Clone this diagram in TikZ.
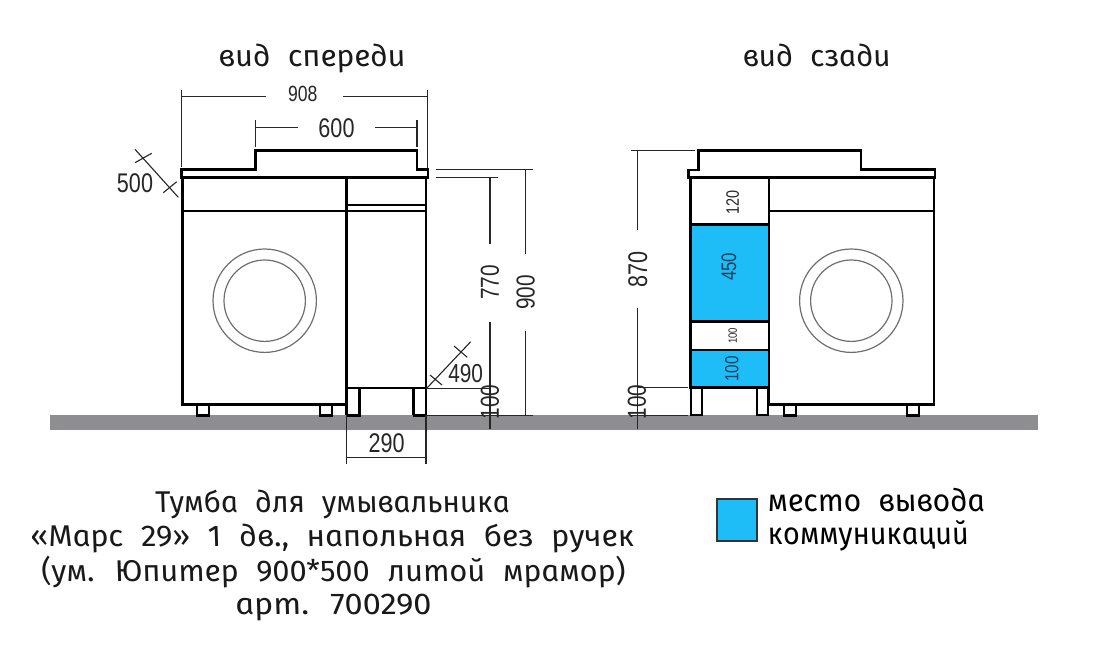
\documentclass[tikz,border=0pt]{standalone}
\usepackage{fontspec}
\usepackage{graphicx}
\setmainfont{Liberation Sans}
\newfontfamily\capfontbase[ItalicFeatures={FakeSlant=-0.17},WordSpace=2.2]{Fira Sans}
\newcommand{\capfont}{\capfontbase\itshape}
\definecolor{skyfill}{HTML}{1FBDF8}
\definecolor{groundgray}{HTML}{8E8E92}
\definecolor{ringgray}{HTML}{6E6E6E}
\definecolor{numblue}{HTML}{123F5C}
\tikzset{
  x=1pt,y=-1pt,
  outline/.style={draw=black,line width=2.6pt,line join=miter},
  thin outline/.style={draw=black,line width=2.2pt},
  dim/.style={draw=black!85,line width=1.1pt},
  ring/.style={draw=ringgray,line width=1.2pt},
  caption/.style={font=\capfont\fontsize{30}{30}\selectfont,inner sep=0pt,text=black!90,anchor=mid},
  legendtext/.style={font=\capfont\fontsize{31}{31}\selectfont,inner sep=0pt,text=black,anchor=base west},
  dimnum/.style={inner sep=0pt,text=black!85},
}
\newcommand{\dimtxt}[1]{\fontsize{#1}{#1}\selectfont}
\newcommand{\nm}[1]{\scalebox{.8}[1]{#1}}
\newcommand{\fitline}[2]{\resizebox{#1pt}{\height}{#2}}
\begin{document}
\begin{tikzpicture}
\useasboundingbox (0,0) rectangle (1100,649);
% ground
\fill[groundgray] (50,415.3) rectangle (1038,430);
% FRONT VIEW
\draw[outline,fill=white] (181.5,169.3) -- (255.7,169.3) -- (255.7,150.5) -- (417,150.5) -- (417,169.3) -- (428,169.3) -- (428,177.7) -- (181.5,177.7) -- cycle;
\draw[outline] (182.7,177.7) -- (182.7,404.3) -- (346.7,404.3);
\draw[outline] (346.7,177.7) -- (346.7,415.3);
\draw[outline] (426,177.7) -- (426,415.3);
\draw[thin outline] (182.7,210.7) -- (426,210.7);
\draw[thin outline] (346.7,205.3) -- (426,205.3);
\draw[outline] (346.7,388) -- (426,388);
\draw[thin outline] (197.3,404.3) rectangle (209.3,415.5);
\draw[thin outline] (320,404.3) rectangle (332.3,415.5);
\draw[outline] (346.7,388) -- (359.3,388) -- (359.3,415.3) -- (346.7,415.3);
\draw[outline] (413.3,415.3) -- (413.3,388);
\draw[outline] (413.3,415.3) -- (426,415.3);
\node[circle,ring,minimum size=103.4pt,inner sep=0pt] (ringA) at (264.7,300.7) {};
\node[circle,ring,minimum size=81.4pt,inner sep=0pt] (doorA) at (264.7,300.7) {};
% front dimensions
\draw[dim] (181.7,90) -- (181.7,167);
\draw[dim] (427.7,90) -- (427.7,168);
\draw[dim] (182,96.7) -- (266,96.7);
\draw[dim] (343,96.7) -- (428,96.7);
\node[dimnum,font=\dimtxt{22}] (n908) at (302.7,94) {\nm{908}};
\draw[dim] (255.7,120) -- (255.7,147);
\draw[dim] (417,120) -- (417,147);
\draw[dim] (256,127.7) -- (298,127.7);
\draw[dim] (375,127.7) -- (417,127.7);
\node[dimnum,font=\dimtxt{27}] (n600) at (336.5,128.5) {\nm{600}};
\draw[dim] (135,149.3) -- (178.3,197.3);
\draw[dim] (135,162.7) -- (151.7,153.3);
\draw[dim] (163.3,192.7) -- (176.7,181.7);
\node[dimnum,font=\dimtxt{27}] (n500) at (135,182.7) {\nm{500}};
\draw[dim] (435.7,169.3) -- (533.3,169.3);
\draw[dim] (435.7,177.7) -- (497.7,177.7);
\draw[dim] (490,177.7) -- (490,244);
\draw[dim] (490,321.7) -- (490,429.3);
\node[dimnum,font=\dimtxt{26},rotate=90] (n770) at (490,282.3) {\nm{770}};
\draw[dim] (525.7,169.3) -- (525.7,254);
\draw[dim] (525.7,331) -- (525.7,415.3);
\node[dimnum,font=\dimtxt{26},rotate=90] (n900) at (525.7,292.3) {\nm{900}};
\draw[dim] (426,415.3) -- (533,415.3);
\draw[dim] (426.7,388.3) -- (470.7,341.7);
\draw[dim] (430,375) -- (442,385);
\draw[dim] (454,346) -- (467.3,357.3);
\node[dimnum,font=\dimtxt{26}] (n490) at (465.7,373.3) {\nm{490}};
\draw[dim] (426,388.3) -- (490,388.3);
\node[dimnum,font=\dimtxt{26},rotate=90] (n100a) at (490,402) {\nm{100}};
\draw[dim] (346.7,415) -- (346.7,464.3);
\draw[dim] (426,415) -- (426,464.3);
\draw[dim] (346.7,457.3) -- (426,457.3);
\node[dimnum,font=\dimtxt{27}] (n290) at (386.7,443.3) {\nm{290}};
% BACK VIEW
\fill[skyfill] (690.3,224.3) rectangle (769,321.7);
\fill[skyfill] (690.3,350) rectangle (769,387.7);
\draw[outline,fill=white] (698.3,150.7) -- (861,150.7) -- (861,169.3) -- (935,169.3) -- (935,177.7) -- (688.3,177.7) -- (688.3,170) -- (698.3,170) -- cycle;
\draw[outline] (690.3,177.7) -- (690.3,387.7) -- (769,387.7);
\draw[outline] (769,177.7) -- (769,404.3) -- (934,404.3) -- (934,177.7);
\draw[thin outline] (769,210.7) -- (934,210.7);
\draw[outline] (690.3,224.3) -- (769,224.3);
\draw[outline] (690.3,321.7) -- (769,321.7);
\draw[outline] (690.3,350) -- (769,350);
\draw[thin outline] (691,387.7) rectangle (702.3,415.3);
\draw[thin outline] (756.7,387.7) rectangle (768.3,415.3);
\draw[thin outline] (784.3,404.3) rectangle (795.7,415.5);
\draw[thin outline] (907.3,404.3) rectangle (919,415.5);
\node[circle,ring,minimum size=103.4pt,inner sep=0pt] (ringB) at (851.3,300.7) {};
\node[circle,ring,minimum size=81.4pt,inner sep=0pt] (doorB) at (851.3,300.7) {};
% back dimensions
\draw[dim] (630.7,150.7) -- (695,150.7);
\draw[dim] (637.7,150.7) -- (637.7,230);
\draw[dim] (637.7,307.7) -- (637.7,429.3);
\node[dimnum,font=\dimtxt{27},rotate=90] (n870) at (637.7,269) {\nm{870}};
\draw[dim] (637,387.7) -- (687.7,387.7);
\draw[dim] (630,415.3) -- (687.7,415.3);
\node[dimnum,font=\dimtxt{26},rotate=90] (n100b) at (637,402) {\nm{100}};
\node[dimnum,font=\dimtxt{18},rotate=90] (n120) at (732.7,202.3) {\nm{120}};
\node[dimnum,font=\dimtxt{21},rotate=90,text=numblue] (n450) at (729,266.7) {\nm{450}};
\node[dimnum,font=\dimtxt{12},rotate=90] (n100c) at (732.7,335.7) {\nm{100}};
\node[dimnum,font=\dimtxt{19},rotate=90,text=numblue] (n100d) at (731.7,369) {\nm{100}};
% titles
\node[caption] (t1) at (313.5,64) {\fitline{187}{вид спереди}};
\node[caption] (t2) at (818,64) {\fitline{148}{вид сзади}};
\node[caption] (c1) at (334,510) {\fitline{354}{Тумба для умывальника}};
\node[caption] (c2) at (334,544) {\fitline{604}{«Марс 29» 1 дв., напольная без ручек}};
\node[caption] (c3) at (335,579) {\fitline{584}{(ум. Юпитер 900*500 литой мрамор)}};
\node[caption] (c4) at (335,612) {\fitline{196}{арт. 700290}};
% legend
\node[draw=black!80,line width=1.2pt,fill=skyfill,inner sep=0pt,minimum width=40pt,minimum height=42pt] (leg) at (737,520) {};
\node[legendtext] (l1) at (769,511) {\fitline{217}{место вывода}};
\node[legendtext] (l2) at (769,544) {\fitline{201}{коммуникаций}};
\end{tikzpicture}
\end{document}
